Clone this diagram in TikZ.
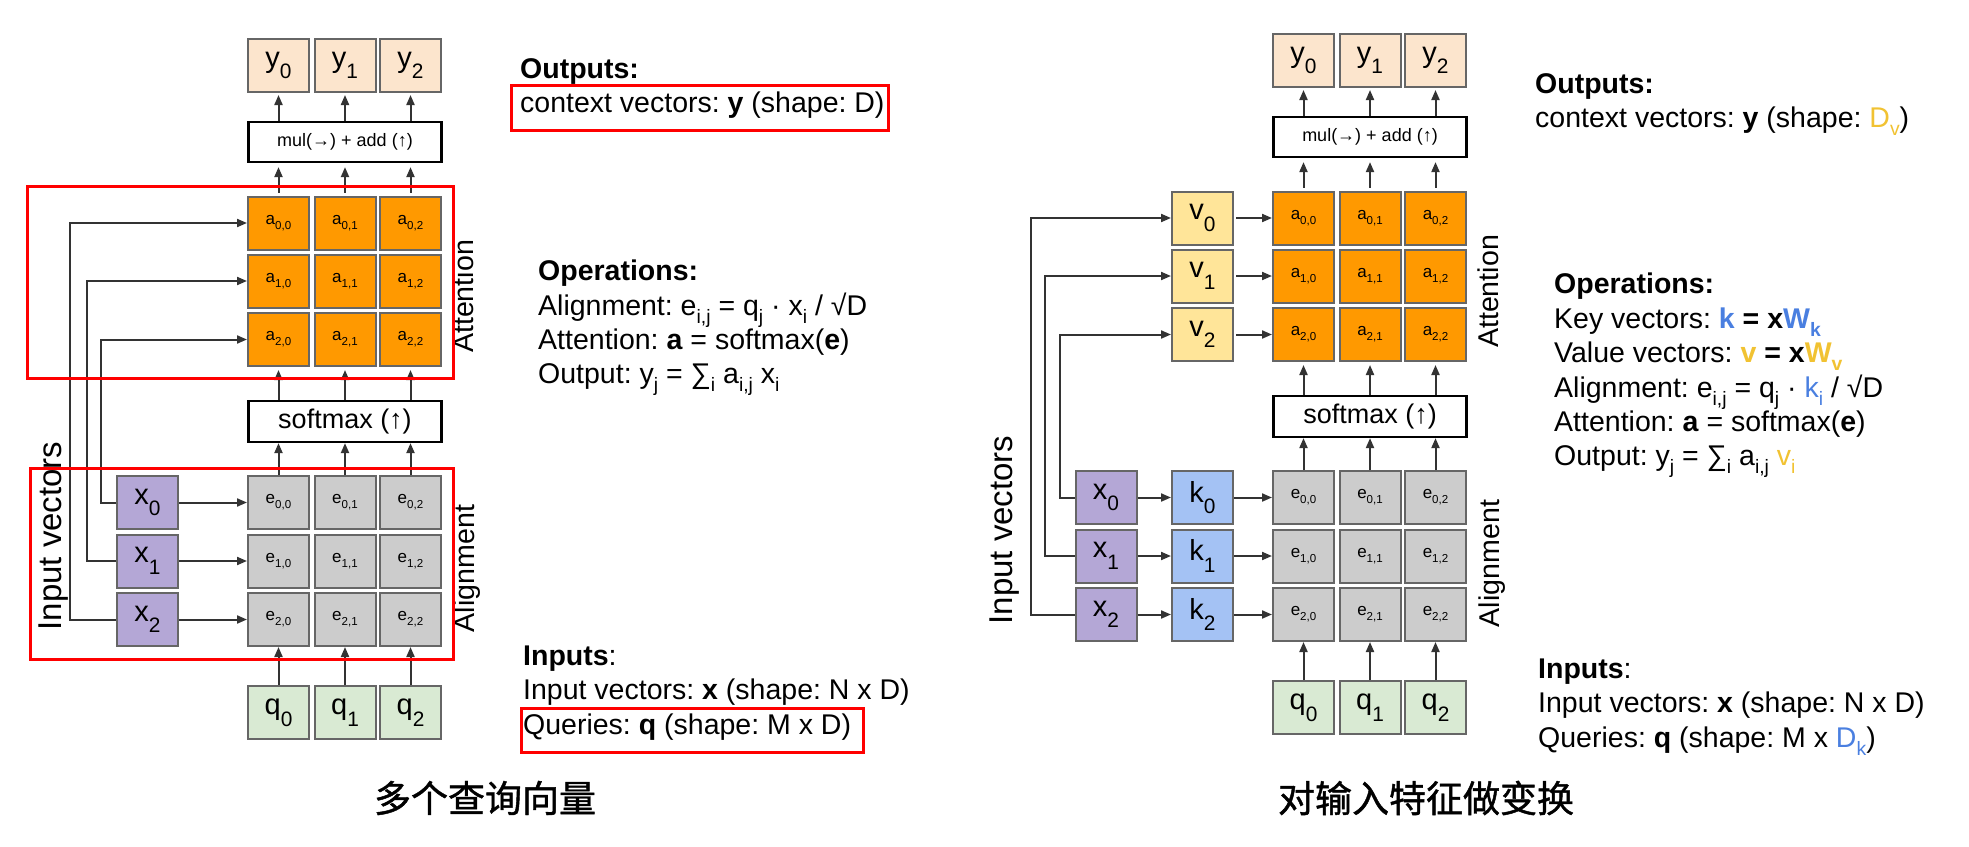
\documentclass[tikz,border=0pt]{standalone}
\usepackage{fontspec}
\setmainfont{Liberation Sans}
\newfontfamily\cjk[FakeBold=1.2]{Noto Sans CJK SC}
\usetikzlibrary{arrows.meta}
\frenchspacing
\definecolor{cy}{HTML}{FCE5CD}
\definecolor{co}{HTML}{FF9900}
\definecolor{ce}{HTML}{CCCCCC}
\definecolor{cx}{HTML}{B4A7D6}
\definecolor{cq}{HTML}{D9EAD3}
\definecolor{cv}{HTML}{FFE599}
\definecolor{ck}{HTML}{A4C2F4}
\definecolor{bordergray}{HTML}{666666}
\definecolor{cline}{HTML}{333333}
\definecolor{tblue}{HTML}{4A7FE0}
\definecolor{tyel}{HTML}{F1C232}
\newcommand\lo[1]{\raisebox{-0.3em}{\scalebox{0.68}{#1}}}
\newcommand\lob[1]{\raisebox{-0.4em}{\scalebox{0.72}{#1}}}
\tikzset{
  cell/.style={draw=bordergray, line width=2pt, minimum width=61pt, minimum height=53pt, inner sep=0pt, font=\fontsize{17}{17}\selectfont},
  bigcell/.style={cell, font=\fontsize{29}{29}\selectfont},
  ycell/.style={bigcell, fill=cy},
  acell/.style={cell, fill=co},
  ecell/.style={cell, fill=ce},
  xcell/.style={bigcell, fill=cx},
  qcell/.style={bigcell, fill=cq},
  vcell/.style={bigcell, fill=cv},
  kcell/.style={bigcell, fill=ck},
  opbox/.style={draw=black, line width=2.2pt, minimum width=193pt, inner sep=0pt},
  conn/.style={draw=cline, line width=2pt, -{Triangle[length=10pt,width=8pt]}},
  txt/.style={anchor=base west, inner sep=0pt, font=\fontsize{28.5}{34}\selectfont},
  redbox/.style={draw=red, line width=3pt},
  sidelab/.style={rotate=90, anchor=base, inner sep=0pt, font=\fontsize{28.6}{28.6}\selectfont},
  caption/.style={inner sep=0pt, font=\cjk\fontsize{37}{37}\selectfont},
}
\newcommand\panel[1]{%
  \foreach \c/\cx in {0/278.5,1/345,2/410.5}{%
    \node[ycell] (#1y\c) at (\cx,65.5) {y\lob{\c}};
    \node[qcell] (#1q\c) at (\cx,712.5) {q\lob{\c}};
    \foreach \r/\ry in {0/223,1/281,2/339.5}{\node[acell] (#1a\r\c) at (\cx,\ry) {a\lo{\r,\c}};}
    \foreach \r/\ry in {0/502.5,1/561,2/619.5}{\node[ecell] (#1e\r\c) at (\cx,\ry) {e\lo{\r,\c}};}
  }
  \node[opbox, minimum height=40pt, font=\fontsize{18}{18}\selectfont] (#1mul) at (345,142) {mul(→) + add (↑)};
  \node[opbox, minimum height=41pt, font=\fontsize{27}{27}\selectfont] (#1soft) at (345,421.5) {softmax (↑)};
  \foreach \c in {0,1,2}{%
    \draw[conn] (#1q\c.north) -- (#1e2\c.south);
    \draw[conn] (#1e0\c.north) -- (#1soft.south -| #1e0\c);
    \draw[conn, shorten >=3pt] (#1soft.north -| #1a2\c) -- (#1a2\c.south);
    \draw[conn, shorten <=3pt, shorten >=4pt] (#1a0\c.north) -- (#1mul.south -| #1a0\c);
    \draw[conn, shorten >=2pt] (#1mul.north -| #1y\c) -- (#1y\c.south);
  }
  \node[sidelab] (#1att) at (473,296.5) {Attention};
  \node[sidelab] (#1ali) at (474,568.5) {Alignment};
}
\begin{document}
\begin{tikzpicture}[x=1pt,y=-1pt]
\useasboundingbox (0,0) rectangle (1969,846);
% ---------- left panel ----------
\panel{L}
\foreach \r/\ry in {0/502.5,1/561,2/619.5}{%
  \node[xcell] (Lx\r) at (147.5,\ry) {x\lob{\r}};
  \draw[conn] (Lx\r.east) -- (Le\r0.west);
}
\coordinate (Lw0) at (101,0);
\coordinate (Lw1) at (87,0);
\coordinate (Lw2) at (70,0);
\draw[conn] (Lx0.west) -- (Lx0.west -| Lw0) |- (La20.west);
\draw[conn] (Lx1.west) -- (Lx1.west -| Lw1) |- (La10.west);
\draw[conn] (Lx2.west) -- (Lx2.west -| Lw2) |- (La00.west);
\node[sidelab, font=\fontsize{33}{33}\selectfont] (Linp) at (61,536) {Input vectors};
\draw[redbox] (27,186) rectangle (453,378);
\draw[redbox] (30,468) rectangle (453,659);

\node[txt] (Lout) at (520,78) {\textbf{Outputs:}};
\node[txt] (Lctx) at (520,112) {context vectors: \textbf{y} (shape: D)};
\draw[redbox] (511,85) rectangle (888,130);
\node[txt] (Lops) at (538,280) {\textbf{Operations:}};
\node[txt] (Lal) at (538,315) {Alignment: e\lo{i,j} = q\lo{j} · x\lo{i} / √D};
\node[txt] (Lat) at (538,349) {Attention: \textbf{a} = softmax(\textbf{e})};
\node[txt] (Lop) at (538,383) {Output: y\lo{j} = ∑\lo{i} a\lo{i,j} x\lo{i}};
\node[txt] (Lin) at (523,665) {\textbf{Inputs}:};
\node[txt] (Liv) at (523,699) {Input vectors: \textbf{x} (shape: N x D)};
\node[txt] (Lqu) at (523,734) {Queries: \textbf{q} (shape: M x D)};
\draw[redbox] (521,708) rectangle (863,752);
\node[caption] (capL) at (485,798) {多个查询向量};

% ---------- right panel ----------
\begin{scope}[shift={(1025,-5)}]
\panel{R}
\foreach \r/\ry in {0/502.5,1/561,2/619.5}{%
  \node[xcell] (Rx\r) at (81,\ry) {x\lob{\r}};
  \node[kcell] (Rk\r) at (177.5,\ry) {k\lob{\r}};
  \draw[conn] (Rx\r.east) -- (Rk\r.west);
  \draw[conn] (Rk\r.east) -- (Re\r0.west);
}
\foreach \r/\ry in {0/223,1/281,2/339.5}{%
  \node[vcell] (Rv\r) at (177.5,\ry) {v\lob{\r}};
  \draw[conn, shorten <=2pt] (Rv\r.east) -- (Ra\r0.west);
}
\coordinate (Rw0) at (35,0);
\coordinate (Rw1) at (20,0);
\coordinate (Rw2) at (6,0);
\draw[conn] (Rx0.west) -- (Rx0.west -| Rw0) |- (Rv2.west);
\draw[conn] (Rx1.west) -- (Rx1.west -| Rw1) |- (Rv1.west);
\draw[conn] (Rx2.west) -- (Rx2.west -| Rw2) |- (Rv0.west);
\node[sidelab, font=\fontsize{33}{33}\selectfont] (Rinp) at (-13,535) {Input vectors};
\end{scope}

\node[txt] (Rout) at (1535,93) {\textbf{Outputs:}};
\node[txt] (Rctx) at (1535,127) {context vectors: \textbf{y} (shape: {\color{tyel}D\lo{v}})};
\node[txt] (Rops) at (1554,293) {\textbf{Operations:}};
\node[txt] (Rkv) at (1554,328) {Key vectors: \textbf{{\color{tblue}k} = x{\color{tblue}W\lo{k}}}};
\node[txt] (Rvv) at (1554,362) {Value vectors: \textbf{{\color{tyel}v} = x{\color{tyel}W\lo{v}}}};
\node[txt] (Ral) at (1554,397) {Alignment: e\lo{i,j} = q\lo{j} · {\color{tblue}k\lo{i}} / √D};
\node[txt] (Rat) at (1554,431) {Attention: \textbf{a} = softmax(\textbf{e})};
\node[txt] (Rop) at (1554,465) {Output: y\lo{j} = ∑\lo{i} a\lo{i,j} {\color{tyel}v\lo{i}}};
\node[txt] (Rin) at (1538,678) {\textbf{Inputs}:};
\node[txt] (Riv) at (1538,712) {Input vectors: \textbf{x} (shape: N x D)};
\node[txt] (Rqu) at (1538,747) {Queries: \textbf{q} (shape: M x {\color{tblue}D\lo{k}})};
\node[caption] (capR) at (1426,798) {对输入特征做变换};
\end{tikzpicture}
\end{document}
